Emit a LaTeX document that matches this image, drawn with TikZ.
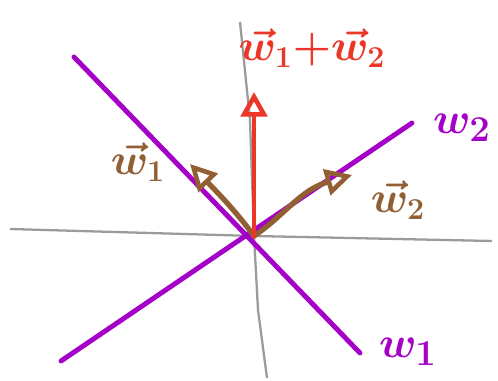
\documentclass[tikz,border=0pt]{standalone}
\usepackage{bm}
\usetikzlibrary{arrows.meta}
\definecolor{axisgray}{RGB}{155,155,155}
\definecolor{wpurple}{RGB}{165,0,200}
\definecolor{sumred}{RGB}{235,55,40}
\definecolor{vecbrown}{RGB}{145,95,50}
\tikzset{
  axis/.style={draw=axisgray, line width=1.3pt},
  wline/.style={draw=wpurple, line width=2.8pt, line cap=round},
  wvec/.style={draw=vecbrown, line width=3pt, line cap=round, -{Triangle[open, length=15pt, width=15pt, line width=2.6pt]}},
  sumvec/.style={draw=sumred, line width=2.8pt, line cap=round, -{Triangle[open, length=14pt, width=15pt, line width=2.6pt]}},
  lbl/.style={font=\fontsize{24}{24}\selectfont}
}
\begin{document}
\begin{tikzpicture}[x=0.02cm, y=-0.02cm]
  \useasboundingbox (0,0) rectangle (498,381);
  % axes
  \coordinate (o) at (254,236);
  \draw[axis] (10,229) -- (o) -- (492,241);
  \draw[axis] (240,22) -- (250,120) -- (o) -- (258,310) -- (267,378);
  % hyperplanes
  \coordinate (a1) at (74,57);
  \coordinate (b1) at (360,353);
  \coordinate (a2) at (61,361);
  \coordinate (b2) at (412,123);
  \draw[wline] (a1) -- (b1);
  \draw[wline] (a2) -- (b2);
  % vectors
  \coordinate (w1) at (190,164);
  \coordinate (w2) at (352,175);
  \coordinate (s) at (254,92);
  \draw[wvec] (o) .. controls (235,210) and (215,190) .. (w1);
  \draw[wvec] (o) .. controls (285,215) and (300,190) .. (w2);
  \draw[sumvec] (o) -- (s);
  % labels
  \node[lbl, text=sumred] (lsum) at (312,48) {$\bm{\vec{w}_1{+}\vec{w}_2}$};
  \node[lbl, text=vecbrown] (lw1) at (138,162) {$\bm{\vec{w}_1}$};
  \node[lbl, text=vecbrown] (lw2) at (398,200) {$\bm{\vec{w}_2}$};
  \node[lbl, text=wpurple, font=\fontsize{32}{32}\selectfont] (lh2) at (462,128) {$\bm{w_2}$};
  \node[lbl, text=wpurple, font=\fontsize{32}{32}\selectfont] (lh1) at (408,352) {$\bm{w_1}$};
\end{tikzpicture}
\end{document}
